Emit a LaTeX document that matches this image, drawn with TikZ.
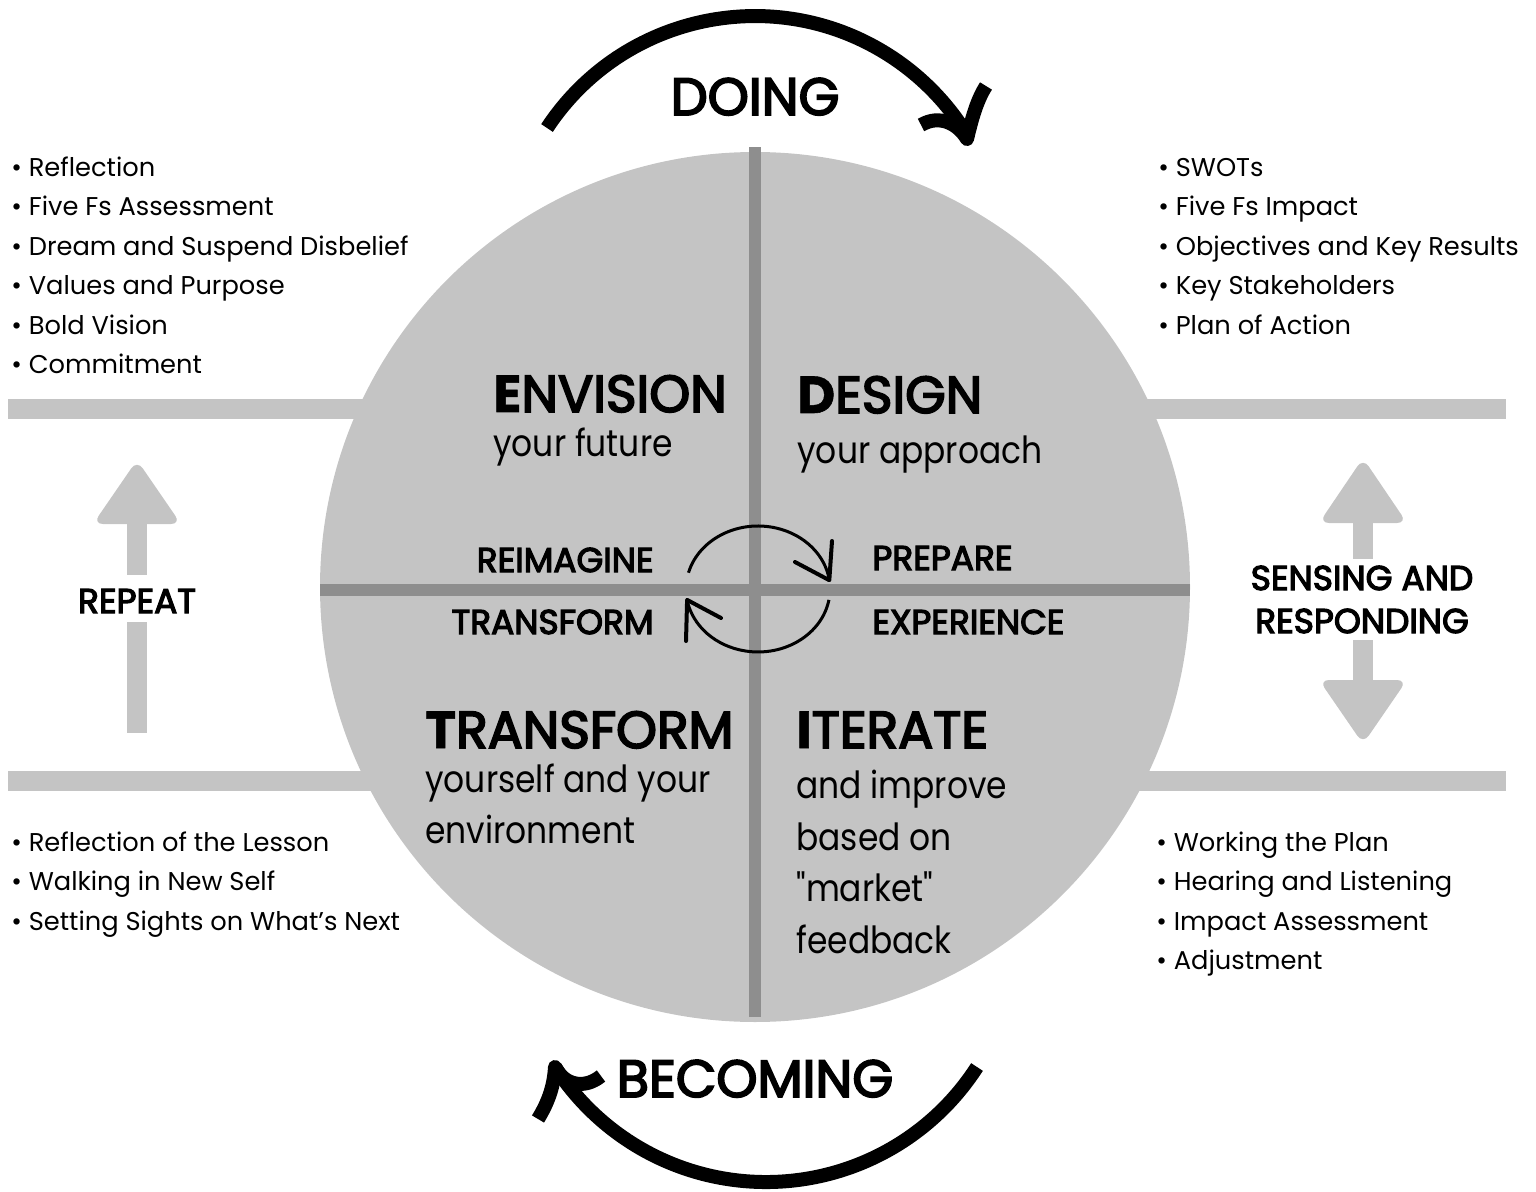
\documentclass[tikz,border=0pt]{standalone}
\usepackage{fontspec}
\setmainfont{Poppins}
\newfontfamily\hdfont[FakeStretch=0.88]{Poppins}
\newfontfamily\capsfont[FakeBold=3.5]{Poppins}

\definecolor{disc}{HTML}{C4C4C4}
\definecolor{cross}{HTML}{8E8E8E}

% heading word: heavier first letter, medium-weight rest
\newcommand\headword[2]{{\bfseries\addfontfeature{FakeBold=1}#1}{\capsfont#2}}

\begin{document}
\begin{tikzpicture}[x=0.5pt,y=-0.5pt,
  listitem/.style={anchor=base west, inner sep=0, font=\fontsize{12.85}{16}\selectfont},
  heading/.style={anchor=base west, inner sep=0, font=\fontsize{26}{30}\selectfont},
  subline/.style={anchor=base west, inner sep=0, font=\hdfont\fontsize{18.7}{22}\selectfont},
  bigword/.style={anchor=base, inner sep=0, font=\capsfont\fontsize{26.2}{30}\selectfont},
  sidelabel/.style={anchor=base, inner sep=0, font=\capsfont\fontsize{17.2}{20}\selectfont},
  midlabel/.style={inner sep=0, font=\capsfont\fontsize{17.2}{20}\selectfont},
  bigarrow/.style={line width=7pt},
  smallarrow/.style={line width=1.5pt},
  smallbarb/.style={line width=2pt, line cap=round, line join=round},
]
\useasboundingbox (0,0) rectangle (1536,1192);

% horizontal bands behind the wheel
\fill[disc] (8,399) rectangle (1506,419);
\fill[disc] (8,771) rectangle (1506,791);

% the wheel and its quadrant cross
\fill[disc] (755,587) circle[radius=435];
\fill[cross] (749,147) rectangle (761,1017);
\fill[cross] (320,584) rectangle (1190,596);

% DOING arc (clockwise, over the top)
\coordinate (doingstart) at (547,128);
\coordinate (doingtip) at (967,139);
\draw[bigarrow] (doingstart) arc[start angle=213.4, end angle=329, radius=249];
\draw[bigarrow, line join=round] (921,125) .. controls (940,114) and (958,124) .. (doingtip)
  .. controls (972,118) and (977,100) .. (986,86);
\node[bigword] (doing) at (755,115) {DOING};

% BECOMING arc (under the bottom, pointing back left)
\coordinate (becomingstart) at (977,1067);
\coordinate (becomingtip) at (555,1067);
\draw[bigarrow] (becomingstart) arc[start angle=32.8, end angle=147.2, radius=251];
\draw[bigarrow, line join=round] (538,1119) .. controls (549,1101) and (554,1085) .. (becomingtip)
  .. controls (565,1086) and (585,1089) .. (601,1076);
\node[bigword] (becoming) at (755,1097) {BECOMING};

% quadrant headings
\node[heading] (envision) at (493,412) {\headword{E}{NVISION}};
\node[subline] (envisionsub) at (493,456) {your future};
\node[heading] (design) at (797,413) {\headword{D}{ESIGN}};
\node[subline] (designsub) at (797,463) {your approach};
\node[heading] (transform) at (425,748) {\headword{T}{RANSFORM}};
\node[subline] (transformsub1) at (425,792) {yourself and your};
\node[subline] (transformsub2) at (425,843) {environment};
\node[heading] (iterate) at (796,748) {\headword{I}{TERATE}};
\node[subline] (iteratesub1) at (796,798) {and improve};
\node[subline] (iteratesub2) at (796,850) {based on};
\node[subline] (iteratesub3) at (796,901) {"market"};
\node[subline] (iteratesub4) at (796,953) {feedback};

% inner cycle labels
\node[midlabel, anchor=base east] (reimagine) at (654,572) {REIMAGINE};
\node[midlabel, anchor=base west] (prepare) at (872,570) {PREPARE};
\node[midlabel, anchor=base east] (transformmid) at (654,634) {TRANSFORM};
\node[midlabel, anchor=base west] (experience) at (872,634) {EXPERIENCE};

% inner cycle arrows
\coordinate (cyctop) at (829.3,580.2);
\coordinate (cycbot) at (687.1,599.9);
\draw[smallarrow] (688.5,572.7) arc[start angle=195, end angle=352, x radius=72, y radius=63];
\draw[smallbarb] (795,562) -- (cyctop) -- (832,541);
\draw[smallarrow] (828.9,599.9) arc[start angle=10, end angle=170, x radius=72, y radius=63];
\draw[smallbarb] (721,618) -- (cycbot) -- (686,641);

% REPEAT arrow
\fill[disc, rounded corners=5] (137,524) -- (181,524) -- (137,460) -- (93,524) -- cycle;
\fill[disc] (127,522) rectangle (147,575);
\fill[disc] (127,622) rectangle (147,733);
\node[sidelabel] (repeat) at (137,613) {REPEAT};

% SENSING AND RESPONDING double arrow
\fill[disc, rounded corners=5] (1363,523) -- (1407,523) -- (1363,458) -- (1319,523) -- cycle;
\fill[disc] (1353,521) rectangle (1373,559);
\fill[disc] (1353,640) rectangle (1373,682);
\fill[disc, rounded corners=5] (1363,680) -- (1407,680) -- (1363,744) -- (1319,680) -- cycle;
\node[sidelabel] (sensing) at (1362,590) {SENSING AND};
\node[sidelabel] (responding) at (1362,633) {RESPONDING};

% activity lists
\foreach \t [count=\i] in {Reflection, Five Fs Assessment, Dream and Suspend Disbelief,
    Values and Purpose, Bold Vision, Commitment}
  \node[listitem] (envlist\i) at (11,{137+39.5*\i}) {• \t};
\foreach \t [count=\i] in {SWOTs, Five Fs Impact, Objectives and Key Results,
    Key Stakeholders, Plan of Action}
  \node[listitem] (deslist\i) at (1158,{137+39.5*\i}) {• \t};
\foreach \t [count=\i] in {Reflection of the Lesson, Walking in New Self,
    Setting Sights on What’s Next}
  \node[listitem] (trlist\i) at (11,{811.5+39.5*\i}) {• \t};
\foreach \t [count=\i] in {Working the Plan, Hearing and Listening,
    Impact Assessment, Adjustment}
  \node[listitem] (itlist\i) at (1156,{811.5+39.5*\i}) {• \t};
\end{tikzpicture}
\end{document}
